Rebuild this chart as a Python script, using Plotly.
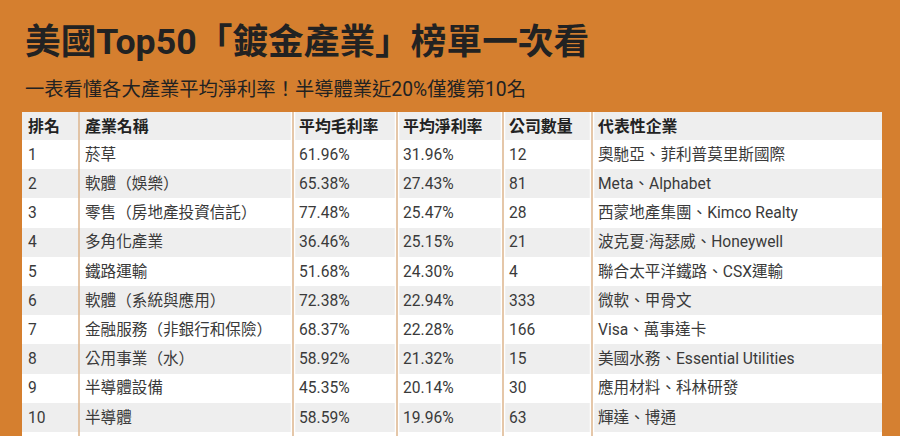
import plotly.graph_objects as go
from itertools import accumulate

title = "美國Top50「鍍金產業」榜單一次看"
subtitle = "一表看懂各大產業平均淨利率！半導體業近20%僅獲第10名"

headers = ["排名", "產業名稱", "平均毛利率", "平均淨利率", "公司數量", "代表性企業"]
rank = ["1", "2", "3", "4", "5", "6", "7", "8", "9", "10"]
industry = ["菸草", "軟體（娛樂）", "零售（房地產投資信託）", "多角化產業", "鐵路運輸",
            "軟體（系統與應用）", "金融服務（非銀行和保險）", "公用事業（水）", "半導體設備", "半導體"]
gross_margin = ["61.96%", "65.38%", "77.48%", "36.46%", "51.68%",
                "72.38%", "68.37%", "58.92%", "45.35%", "58.59%"]
net_margin = ["31.96%", "27.43%", "25.47%", "25.15%", "24.30%",
              "22.94%", "22.28%", "21.32%", "20.14%", "19.96%"]
companies = ["12", "81", "28", "21", "4", "333", "166", "15", "30", "63"]
examples = ["奧馳亞、菲利普莫里斯國際", "Meta、Alphabet", "西蒙地產集團、Kimco Realty",
            "波克夏·海瑟威、Honeywell", "聯合太平洋鐵路、CSX運輸", "微軟、甲骨文",
            "Visa、萬事達卡", "美國水務、Essential Utilities", "應用材料、科林研發", "輝達、博通"]

W, H = 900, 436
orange = "#d57f2f"
grey = "#eeeeee"
tan = "#dcb48c"
font_family = "Roboto, 'Noto Sans CJK TC', sans-serif"

col_widths = [57, 214, 104, 106, 89, 290]
table_left, table_top = 22, 112
table_right = table_left + sum(col_widths)
text_shift = 2  # plotly's cell padding is fixed, so slide the columns left a little
row_fill = [grey if i % 2 else "white" for i in range(len(rank))]

fig = go.Figure()
fig.add_table(
    domain=dict(x=[(table_left - text_shift) / W, table_right / W], y=[0, 1 - table_top / H]),
    columnwidth=col_widths[:-1] + [col_widths[-1] + text_shift],
    header=dict(
        values=headers,
        height=28,
        fill_color=grey,
        line_width=0,
        align="left",
        font=dict(family=font_family, size=15.9, color="#222222", weight="bold"),
    ),
    cells=dict(
        values=[rank, industry, gross_margin, net_margin, companies, examples],
        height=29.2,
        fill_color=[row_fill],
        line_width=0,
        align="left",
        font=dict(family=font_family, size=15.6, color="#3a3a3a"),
    ),
)

# white strip under the last row, the next row is cut off by the image edge
fig.add_shape(type="rect", xref="paper", yref="paper", layer="below",
              x0=table_left / W, x1=table_right / W, y0=0, y1=4 / H,
              fillcolor="white", line_width=0)
# hide the bit of table that sticks out on the left
fig.add_shape(type="rect", xref="paper", yref="paper",
              x0=(table_left - text_shift - 1) / W, x1=table_left / W, y0=0, y1=1 - table_top / H,
              fillcolor=orange, line_width=0)

# column separators
separators = list(accumulate(col_widths))[:-1]
for i, sep in enumerate(separators):
    x = (table_left + sep) / W
    if i > 0:
        fig.add_shape(type="line", xref="paper", yref="paper", x0=x, x1=x,
                      y0=0, y1=1 - table_top / H, line=dict(color="white", width=4.5))
    fig.add_shape(type="line", xref="paper", yref="paper", x0=x, x1=x,
                  y0=0, y1=1 - table_top / H, line=dict(color=tan, width=1.5))

fig.add_annotation(text=title, xref="paper", yref="paper", x=23 / W, y=1 - 42 / H,
                   xanchor="left", yanchor="middle", showarrow=False,
                   font=dict(family=font_family, size=35.7, color="#222222", weight="bold"))
fig.add_annotation(text=subtitle, xref="paper", yref="paper", x=23 / W, y=1 - 89 / H,
                   xanchor="left", yanchor="middle", showarrow=False,
                   font=dict(family=font_family, size=19.3, color="#222222"))

fig.update_layout(
    width=W,
    height=H,
    margin=dict(l=0, r=0, t=0, b=0),
    paper_bgcolor=orange,
    showlegend=False,
)

# drop the browser's default page margin so the figure fills the window
fig.write_html("out.html", config=dict(displayModeBar=False),
               post_script="document.body.style.margin='0';document.documentElement.style.overflow='hidden';")
